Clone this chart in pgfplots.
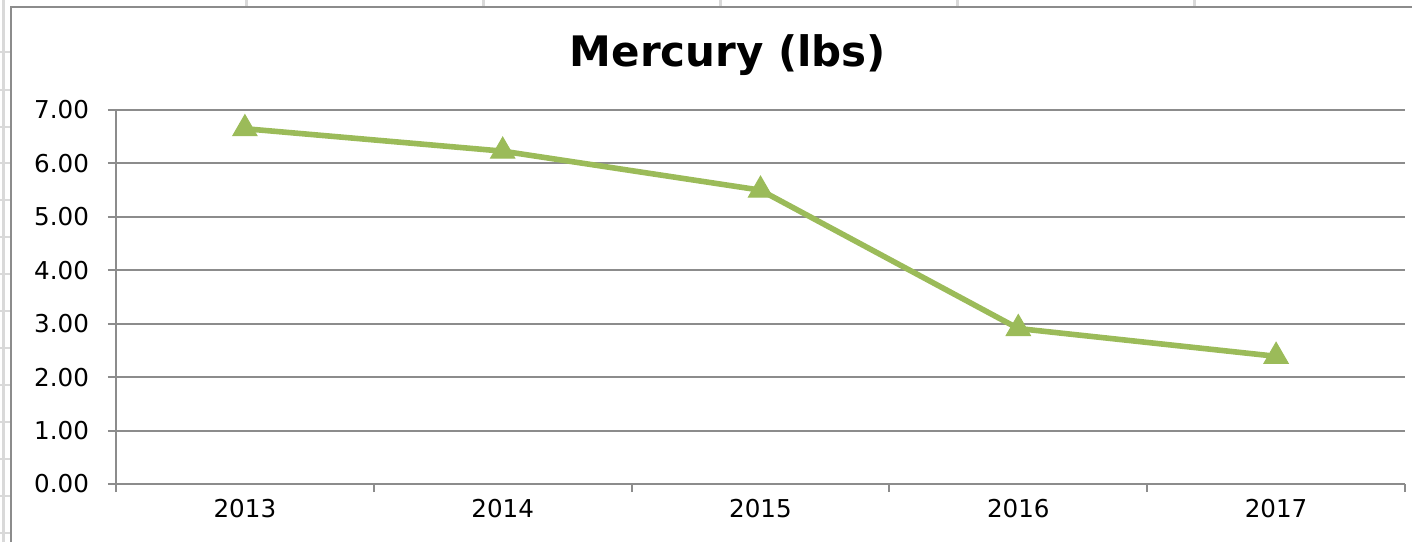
\documentclass[border=0pt]{standalone}
\usepackage{pgfplots}
\pgfplotsset{compat=1.18}
\usepackage{fontspec}
\setmainfont{DejaVu Sans}
\definecolor{lgreen}{HTML}{9BBB59}
\definecolor{gridc}{HTML}{8C8C8C}
\definecolor{sheet}{HTML}{D9D9D9}
\begin{document}
\begin{tikzpicture}[x=0.5pt,y=0.5pt]
\useasboundingbox (0,0) rectangle (1412,542);
% spreadsheet cell lines outside the chart frame
\foreach \xx in {246,483,720,957,1194} \draw[sheet,line width=1.5pt] (\xx,535) -- (\xx,542);
\foreach \yy in {52,90,127,163,200,237,274,311,348,385,422,459,496,533} \draw[sheet,line width=1pt] (0,542-\yy) -- (10,542-\yy);
\draw[sheet,line width=1.5pt] (3,0) -- (3,542);
% chart frame
\draw[gridc,line width=1pt] (11,0) -- (11,535) -- (1412,535);
\node[font=\fontsize{21}{24}\bfseries\selectfont] at (728,487) {Mercury (lbs)};
\begin{axis}[
  at={(116pt*0.5,58pt*0.5)}, anchor=south west,
  scale only axis, width=644.5pt, height=187pt,
  xmin=-0.5, xmax=4.5, ymin=0, ymax=7,
  xtick={-0.5,0.5,...,4.5}, xticklabels={},
  extra x ticks={0,1,2,3,4},
  extra x tick labels={2013,2014,2015,2016,2017},
  extra x tick style={major tick length=0pt, grid=none},
  ytick={0,1,...,7},
  yticklabel={\pgfmathprintnumber[fixed,fixed zerofill,precision=2]{\tick}},
  /pgf/number format/assume math mode=true,
  ymajorgrids, grid style={gridc,line width=1pt},
  axis line style={gridc,line width=1pt},
  axis x line*=bottom, axis y line*=left,
  tick style={gridc,line width=1pt},
  tick align=outside, major tick length=4pt,
  ticklabel style={font=\fontsize{12.3}{14}\selectfont, text=black},
  xticklabel style={yshift=-4pt},
  yticklabel style={xshift=-6pt},
  clip=false,
]
\addplot[lgreen, line width=2.8pt, mark=triangle*, mark size=7pt,
  mark options={fill=lgreen, draw=lgreen, line width=0.5pt}]
  coordinates {(0,6.65) (1,6.23) (2,5.50) (3,2.91) (4,2.39)};
\end{axis}
\end{tikzpicture}
\end{document}
